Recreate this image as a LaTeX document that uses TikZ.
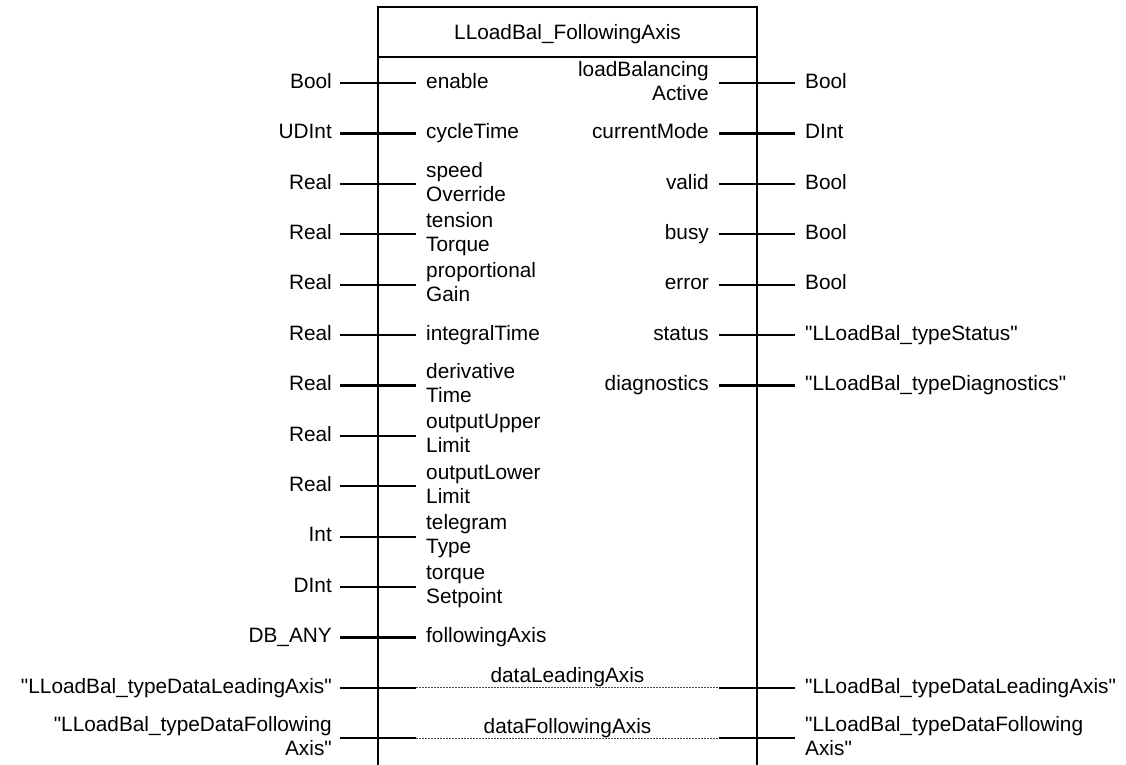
\documentclass[tikz,border=0pt]{standalone}
\usepackage{fontspec}
\setmainfont{Liberation Sans}[Ligatures=TeXOff]
% straight double quote
\newcommand\sq{\symbol{34}}
% strut that puts the cap-height centre of a line on the node centre
\newcommand\capstrut{\rule[-4.5pt]{0pt}{19.5pt}}
\begin{document}
\begin{tikzpicture}[x=1pt,y=-1pt,
  every node/.style={font=\fontsize{20.8}{24}\selectfont, inner sep=0pt},
  label/.style={execute at begin node=\capstrut, execute at end node=\capstrut},
  blockline/.style={line width=2.4pt, line cap=rect},
  pin/.style={line width=2.2pt},
  passline/.style={line width=0.9pt, draw=black!70, dash pattern=on 2pt off 1pt},
  intype/.style={label, anchor=east, align=right},
  inname/.style={label, anchor=west, align=left},
  outname/.style={label, anchor=east, align=right},
  outtype/.style={label, anchor=west, align=left}]
\useasboundingbox (0,0) rectangle (1126,764);

% function block frame, open at the bottom
\draw[blockline] (378,770) -- (378,7) -- (757,7) -- (757,770);
\draw[blockline] (378,57) -- (757,57);
\node[label] (title) at (567.5,34.5) {LLoadBal\_FollowingAxis};

% inputs
\foreach \i/\t/\n in {
  0/Bool/enable,
  1/UDInt/cycleTime,
  2/Real/{speed\\Override},
  3/Real/{tension\\Torque},
  4/Real/{proportional\\Gain},
  5/Real/integralTime,
  6/Real/{derivative\\Time},
  7/Real/{outputUpper\\Limit},
  8/Real/{outputLower\\Limit},
  9/Int/{telegram\\Type},
  10/DInt/{torque\\Setpoint},
  11/DB\_ANY/followingAxis}{
  \pgfmathsetmacro{\y}{83+50.4*\i}
  \coordinate (inA\i) at (340,\y);
  \coordinate (inB\i) at (416,\y);
  \draw[pin] (inA\i) -- (inB\i);
  \node[intype] (inT\i) at (332,\y) {\t};
  \node[inname] (inN\i) at (426,\y) {\n};
}

% outputs
\foreach \i/\n/\t in {
  0/{loadBalancing\\Active}/Bool,
  1/currentMode/DInt,
  2/valid/Bool,
  3/busy/Bool,
  4/error/Bool,
  5/status/{\sq LLoadBal\_typeStatus\sq},
  6/diagnostics/{\sq LLoadBal\_typeDiagnostics\sq}}{
  \pgfmathsetmacro{\y}{83+50.4*\i}
  \coordinate (outA\i) at (719,\y);
  \coordinate (outB\i) at (795,\y);
  \draw[pin] (outA\i) -- (outB\i);
  \node[outname] (outN\i) at (709,\y) {\n};
  \node[outtype] (outT\i) at (805,\y) {\t};
}

% in/out parameters passed through the block
\foreach \i/\n/\t in {
  12/dataLeadingAxis/{\sq LLoadBal\_typeDataLeadingAxis\sq},
  13/dataFollowingAxis/{\sq LLoadBal\_typeDataFollowing\\Axis\sq}}{
  \pgfmathsetmacro{\y}{83+50.4*\i}
  \coordinate (ioA\i) at (340,\y);
  \coordinate (ioB\i) at (416,\y);
  \coordinate (ioC\i) at (719,\y);
  \coordinate (ioD\i) at (795,\y);
  \draw[pin] (ioA\i) -- (ioB\i);
  \draw[passline] (ioB\i) -- (ioC\i);
  \draw[pin] (ioC\i) -- (ioD\i);
  \node[anchor=base] (ioN\i) at (567.5,\y-5) {\n};
  \node[intype] (ioL\i) at (332,\y) {\t};
  \node[outtype] (ioR\i) at (805,\y) {\t};
}
\end{tikzpicture}
\end{document}
